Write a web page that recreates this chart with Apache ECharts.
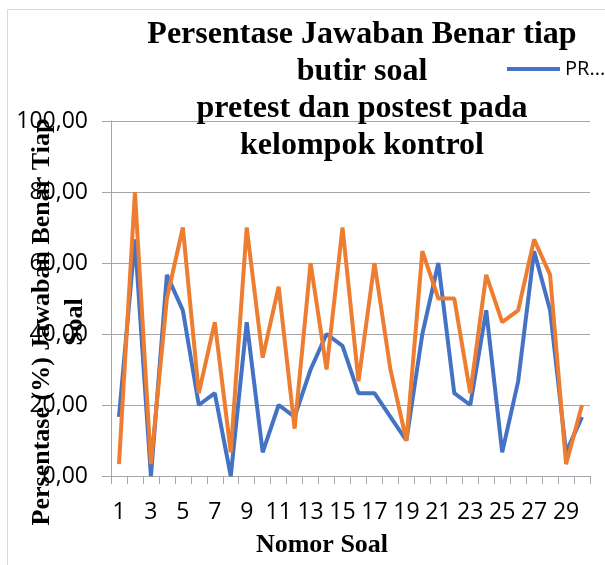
<!DOCTYPE html>
<html>
<head>
<meta charset="utf-8">
<script src="https://cdn.jsdelivr.net/npm/echarts@6/dist/echarts.min.js"></script>
<style>
  html, body { margin: 0; padding: 0; background: #fff; }
  #chart { width: 605px; height: 565px; }
</style>
</head>
<body>
<div id="chart"></div>
<script>
// nomor soal 1..30
const soal = ['1', '2', '3', '4', '5', '6', '7', '8', '9', '10',
  '11', '12', '13', '14', '15', '16', '17', '18', '19', '20',
  '21', '22', '23', '24', '25', '26', '27', '28', '29', '30']
// persentase jawaban benar (pretest)
const pretest = [16.67, 66.67, 0, 56.67, 46.67, 20, 23.33, 0, 43.33, 6.67,
  20, 16.67, 30, 40, 36.67, 23.33, 23.33, 16.67, 10, 40,
  60, 23.33, 20, 46.67, 6.67, 26.67, 63.33, 46.67, 6.67, 16.67]
// persentase jawaban benar (postest)
const postest = [3.33, 80, 3.33, 50, 70, 23.33, 43.33, 6.67, 70, 33.33,
  53.33, 13.33, 60, 30, 70, 26.67, 60, 30, 10, 63.33,
  50, 50, 23.33, 56.67, 43.33, 46.67, 66.67, 56.67, 3.33, 20]

const chart = echarts.init(document.getElementById('chart'))
const serif = '"Liberation Serif", "Times New Roman", serif'
const sans = '"Open Sans", "Liberation Sans", sans-serif'

chart.setOption({
  animation: false,
  title: {
    text: 'Persentase Jawaban Benar tiap\nbutir soal\npretest dan postest pada\nkelompok kontrol',
    left: 357,
    top: 11,
    textAlign: 'center',
    textStyle: {
      fontFamily: serif,
      fontWeight: 'bold',
      fontSize: 32,
      lineHeight: 37,
      color: '#000'
    }
  },
  legend: {
    data: ['PRETEST'],
    left: 502,
    top: 54,
    icon: 'rect',
    itemWidth: 53,
    itemHeight: 4,
    formatter: function() { return 'PR...' },
    textStyle: { fontFamily: sans, fontSize: 20, color: '#000' }
  },
  grid: { left: 111, right: 15, top: 121, bottom: 89 },
  xAxis: {
    type: 'category',
    data: soal,
    boundaryGap: true,
    axisLine: { lineStyle: { color: '#a6a6a6', width: 1 } },
    axisTick: { show: true, interval: 0, length: 8, lineStyle: { color: '#a6a6a6' } },
    axisLabel: { interval: 1, margin: 25, fontFamily: sans, fontSize: 23, color: '#000' },
    splitLine: { show: false }
  },
  yAxis: {
    type: 'value',
    min: 0,
    max: 100,
    interval: 20,
    axisLine: { show: true, lineStyle: { color: '#a6a6a6' } },
    axisTick: { show: true, length: 9, lineStyle: { color: '#a6a6a6' } },
    axisLabel: {
      margin: 23,
      fontFamily: sans,
      fontSize: 23,
      color: '#000',
      formatter: function(v) { return v.toFixed(2).replace('.', ',') }
    },
    splitLine: { lineStyle: { color: '#a6a6a6', width: 1 } }
  },
  graphic: [
    {
      type: 'rect',
      silent: true,
      shape: { x: 7.5, y: 9.5, width: 700, height: 700 },
      style: { fill: 'none', stroke: '#d9d9d9', lineWidth: 1 }
    },
    {
      type: 'text',
      x: 59,
      y: 322,
      rotation: Math.PI / 2,
      style: {
        text: 'Persentase (%) Jawaban Benar Tiap\nSoal',
        fontFamily: serif,
        fontWeight: 'bold',
        fontSize: 26,
        lineHeight: 33,
        align: 'center',
        verticalAlign: 'middle',
        fill: '#000'
      }
    },
    {
      type: 'text',
      x: 322,
      y: 545,
      style: {
        text: 'Nomor Soal',
        fontFamily: serif,
        fontWeight: 'bold',
        fontSize: 26,
        align: 'center',
        verticalAlign: 'middle',
        fill: '#000'
      }
    }
  ],
  series: [
    {
      name: 'PRETEST',
      type: 'line',
      data: pretest,
      symbol: 'none',
      lineStyle: { color: '#4472c4', width: 4 },
      itemStyle: { color: '#4472c4' }
    },
    {
      name: 'POSTEST',
      type: 'line',
      data: postest,
      symbol: 'none',
      lineStyle: { color: '#ed7d31', width: 4 },
      itemStyle: { color: '#ed7d31' }
    }
  ]
})
</script>
</body>
</html>
